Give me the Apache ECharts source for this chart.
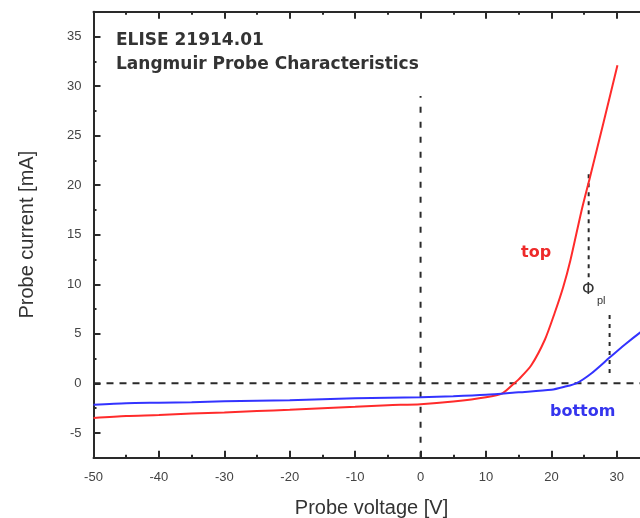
<!DOCTYPE html>
<html>
<head>
<meta charset="utf-8">
<script src="https://cdn.jsdelivr.net/npm/echarts@6/dist/echarts.min.js"></script>
<style>
  html, body { margin: 0; padding: 0; background: #fff; overflow: hidden; }
  /* the plot frame runs slightly past the right edge of the window */
  #chart { width: 652px; height: 518px; }
</style>
</head>
<body>
<div id="chart"></div>
<script>
// Probe voltage [V] / probe current [mA] for the upper ("top") probe
const topVoltage = [-50, -45, -40, -35, -30, -25, -20, -15, -10, -5, 0, 5, 10, 12.5, 14.3, 15, 16.9, 19.0, 20.5, 21.8, 22.9, 24.6, 25.9, 28, 30.1];
const topCurrent = [-3.5, -3.3, -3.2, -3.05, -2.93, -2.8, -2.67, -2.5, -2.35, -2.2, -2.1, -1.83, -1.4, -1.0, 0, 0.4, 1.8, 4.4, 7.1, 9.7, 12.4, 17.4, 20.8, 26.4, 32.1];

// Same for the lower ("bottom") probe
const bottomVoltage = [-50, -45, -40, -35, -30, -25, -20, -15, -10, -5, 0, 5, 10, 15, 20, 22, 23.8, 26.1, 28.9, 31.2, 33.7, 35];
const bottomCurrent = [-2.15, -2.0, -1.95, -1.9, -1.8, -1.75, -1.7, -1.6, -1.5, -1.45, -1.4, -1.3, -1.15, -0.9, -0.65, -0.35, 0, 1.0, 2.6, 3.9, 5.2, 5.8];

// Axis ranges and labelled ticks
const xRange = [-50, 35];
const yRange = [-7.5, 37.5];
const xMajorTicks = [-50, -40, -30, -20, -10, 0, 10, 20, 30];
const yMajorTicks = [-5, 0, 5, 10, 15, 20, 25, 30, 35];

// Guide lines: zero current, zero voltage, and the plasma-potential markers
const zeroCurrentLine = [[-50, 0], [35, 0]];
const zeroVoltageLine = [[0, -7.5], [0, 29]];
const phiTopLine = [[25.7, 21.1], [25.7, 10.6]];
const phiBottomLine = [[28.9, 6.9], [28.9, 1.0]];

const pair = (xs, ys) => xs.map((x, i) => [x, ys[i]]);

const axisColor = '#2a2a2a';
const labelColor = '#444';
const font = '"Liberation Sans", Arial, sans-serif';
const boldFont = '"DejaVu Sans", sans-serif';

function xAxisDef(position, major, showLabels) {
  return {
    type: 'value',
    position: position,
    min: xRange[0], max: xRange[1],
    interval: major ? 10 : 5,
    axisLine: { show: major, onZero: false, lineStyle: { color: axisColor, width: 2 } },
    axisTick: major
      ? { show: true, inside: true, length: 7, customValues: xMajorTicks, lineStyle: { color: axisColor, width: 2 } }
      : { show: true, inside: true, length: 3, lineStyle: { color: axisColor, width: 2 } },
    axisLabel: showLabels
      ? { show: true, customValues: xMajorTicks, color: labelColor, fontSize: 13, fontFamily: font, margin: 13 }
      : { show: false },
    splitLine: { show: false },
    name: showLabels ? 'Probe voltage [V]' : '',
    nameLocation: 'middle',
    nameGap: 41,
    nameTextStyle: { color: '#333', fontSize: 20, fontFamily: font }
  };
}

function yAxisDef(position, major, showLabels) {
  return {
    type: 'value',
    position: position,
    min: yRange[0], max: yRange[1],
    interval: 2.5,
    axisLine: { show: major, onZero: false, lineStyle: { color: axisColor, width: 2 } },
    axisTick: major
      ? { show: true, inside: true, length: 7, customValues: yMajorTicks, lineStyle: { color: axisColor, width: 2 } }
      : { show: true, inside: true, length: 3, lineStyle: { color: axisColor, width: 2 } },
    axisLabel: showLabels
      ? { show: true, customValues: yMajorTicks, color: labelColor, fontSize: 13, fontFamily: font, margin: 12 }
      : { show: false },
    splitLine: { show: false },
    name: showLabels ? 'Probe current [mA]' : '',
    nameLocation: 'middle',
    nameGap: 56,
    nameTextStyle: { color: '#333', fontSize: 20, fontFamily: font }
  };
}

function guide(data, dash) {
  return {
    type: 'line',
    data: data,
    symbol: 'none',
    silent: true,
    lineStyle: { color: '#2a2a2a', width: 2, type: dash },
    z: 1
  };
}

const chart = echarts.init(document.getElementById('chart'), null, { renderer: 'canvas' });

chart.setOption({
  animation: false,
  backgroundColor: '#fff',
  grid: {
    left: 93.5, top: 11.7, width: 556, height: 446,
    containLabel: false,
    outerBoundsMode: 'none'
  },
  xAxis: [
    xAxisDef('bottom', true, true),
    xAxisDef('bottom', false, false),
    xAxisDef('top', true, false),
    xAxisDef('top', false, false)
  ],
  yAxis: [
    yAxisDef('left', true, true),
    yAxisDef('left', false, false),
    yAxisDef('right', true, false),
    yAxisDef('right', false, false)
  ],
  series: [
    guide(zeroCurrentLine, [7, 6]),
    guide(zeroVoltageLine, [6, 9]),
    guide(phiTopLine, [4, 5]),
    guide(phiBottomLine, [4, 5]),
    {
      name: 'top',
      type: 'line',
      data: pair(topVoltage, topCurrent),
      symbol: 'none',
      smooth: 0.25,
      lineStyle: { color: '#ff2b2b', width: 2 },
      z: 3
    },
    {
      name: 'bottom',
      type: 'line',
      data: pair(bottomVoltage, bottomCurrent),
      symbol: 'none',
      smooth: 0.25,
      lineStyle: { color: '#3333ff', width: 2 },
      z: 3
    }
  ],
  graphic: [
    { type: 'text', left: 116, top: 32,
      style: { text: 'ELISE 21914.01', fill: '#333', font: 'bold 17px ' + boldFont } },
    { type: 'text', left: 116, top: 56,
      style: { text: 'Langmuir Probe Characteristics', fill: '#333', font: 'bold 17px ' + boldFont } },
    { type: 'text', left: 521, top: 245,
      style: { text: 'top', fill: '#ee2a2a', font: 'bold 16px ' + boldFont } },
    { type: 'text', left: 550, top: 404,
      style: { text: 'bottom', fill: '#3535ee', font: 'bold 16px ' + boldFont } },
    { type: 'text', left: 582, top: 282,
      style: { text: 'Φ', fill: '#333', font: '16px "DejaVu Sans", sans-serif' } },
    { type: 'text', left: 597, top: 295,
      style: { text: 'pl', fill: '#333', font: '11px ' + font } }
  ]
});
</script>
</body>
</html>
